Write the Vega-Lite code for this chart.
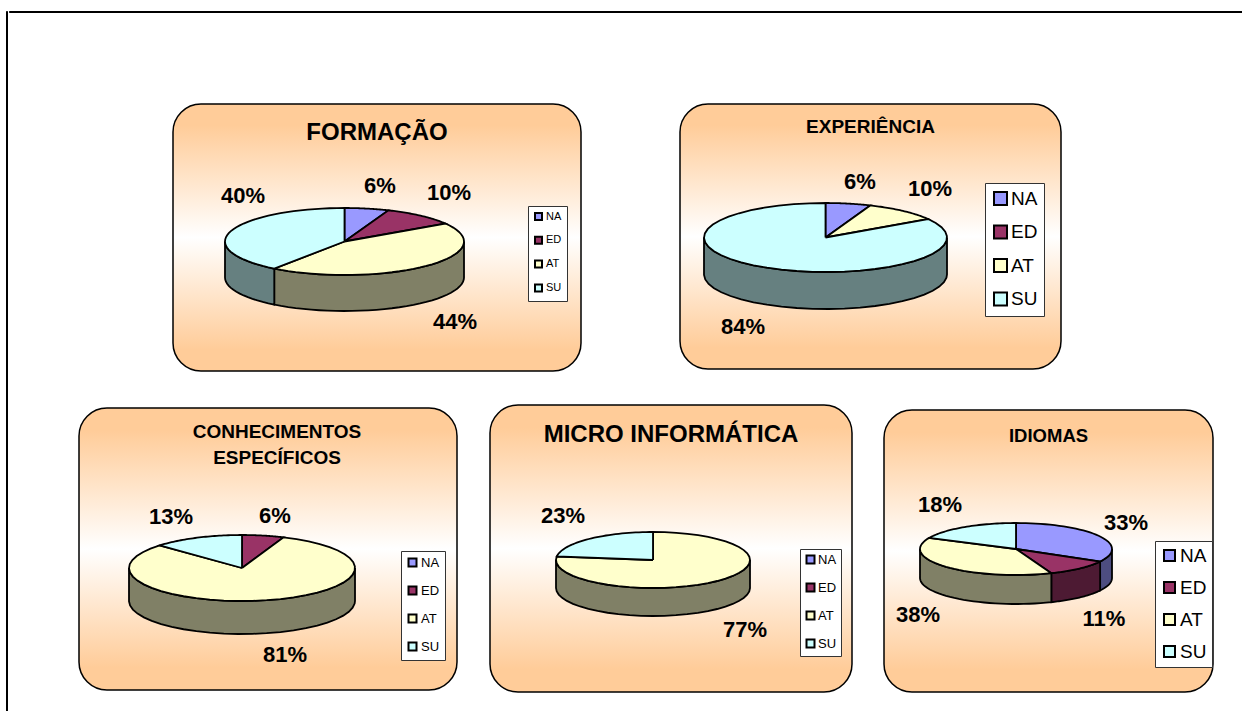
{"$schema":"https://vega.github.io/schema/vega-lite/v6.json","padding":{"left":5,"top":10,"right":0,"bottom":0},"background":"#ffffff","spacing":0,"resolve":{"scale":{"color":"independent","fill":"independent"},"legend":{"color":"independent"}},"config":{"font":"Liberation Sans","legend":{"symbolType":"square","labelColor":"#000000","labelFont":"Liberation Sans","symbolStrokeColor":"#000000","symbolStrokeWidth":2,"symbolOpacity":1,"fillColor":"#ffffff","strokeColor":"#333333"},"title":{"anchor":"middle","offset":0,"baseline":"middle","fontWeight":"bold","color":"#000000","font":"Liberation Sans"},"text":{"fontWeight":"bold","fontSize":22,"font":"Liberation Sans","color":"#000000"}},"data":{"values":[{"Painel":"FORMAÇÃO","Categoria":"NA","Percentual":6},{"Painel":"FORMAÇÃO","Categoria":"ED","Percentual":10},{"Painel":"FORMAÇÃO","Categoria":"AT","Percentual":44},{"Painel":"FORMAÇÃO","Categoria":"SU","Percentual":40},{"Painel":"EXPERIÊNCIA","Categoria":"NA","Percentual":6},{"Painel":"EXPERIÊNCIA","Categoria":"ED","Percentual":0},{"Painel":"EXPERIÊNCIA","Categoria":"AT","Percentual":10},{"Painel":"EXPERIÊNCIA","Categoria":"SU","Percentual":84},{"Painel":"CONHECIMENTOS ESPECÍFICOS","Categoria":"NA","Percentual":0},{"Painel":"CONHECIMENTOS ESPECÍFICOS","Categoria":"ED","Percentual":6},{"Painel":"CONHECIMENTOS ESPECÍFICOS","Categoria":"AT","Percentual":81},{"Painel":"CONHECIMENTOS ESPECÍFICOS","Categoria":"SU","Percentual":13},{"Painel":"MICRO INFORMÁTICA","Categoria":"NA","Percentual":0},{"Painel":"MICRO INFORMÁTICA","Categoria":"ED","Percentual":0},{"Painel":"MICRO INFORMÁTICA","Categoria":"AT","Percentual":77},{"Painel":"MICRO INFORMÁTICA","Categoria":"SU","Percentual":23},{"Painel":"IDIOMAS","Categoria":"NA","Percentual":33},{"Painel":"IDIOMAS","Categoria":"ED","Percentual":11},{"Painel":"IDIOMAS","Categoria":"AT","Percentual":38},{"Painel":"IDIOMAS","Categoria":"SU","Percentual":18}]},"hconcat":[{"data":{"values":[]},"width":1,"height":700,"view":{"stroke":"#000000","strokeWidth":1,"fill":"#000000"},"mark":"text","encoding":{}},{"spacing":0,"resolve":{"scale":{"color":"independent","fill":"independent"},"legend":{"color":"independent"}},"vconcat":[{"data":{"values":[]},"width":1300,"height":1,"view":{"stroke":"#000000","strokeWidth":1,"fill":"#000000"},"mark":"text","encoding":{}},{"data":{"values":[]},"width":10,"height":90,"view":{"stroke":null,"fill":"transparent"},"mark":"text","encoding":{}},{"spacing":0,"resolve":{"scale":{"color":"independent","fill":"independent"},"legend":{"color":"independent"}},"hconcat":[{"data":{"values":[]},"width":163,"height":10,"view":{"stroke":null,"fill":"transparent"},"mark":"text","encoding":{}},{"width":408,"height":267,"view":{"stroke":"#000000","strokeWidth":1.5,"cornerRadius":28,"fill":{"gradient":"linear","x1":0,"y1":0,"x2":0,"y2":1,"stops":[{"offset":0.08,"color":"#FFCC99"},{"offset":0.5,"color":"#FFFFFF"},{"offset":0.92,"color":"#FFCC99"}]}},"title":{"text":"FORMAÇÃO","fontSize":24,"dy":45},"transform":[{"filter":"datum.Painel==='FORMAÇÃO' && datum.Percentual>0"},{"window":[{"op":"sum","field":"Percentual","as":"acum"}],"ignorePeers":true},{"calculate":"(datum.acum-datum.Percentual)*PI/50","as":"a0"},{"calculate":"datum.acum*PI/50","as":"a1"}],"encoding":{"x":{"field":"x","type":"quantitative","axis":null,"scale":{"domain":[-171.5,236.5],"nice":false,"zero":false}},"y":{"field":"y","type":"quantitative","axis":null,"scale":{"domain":[-129.5,137.5],"nice":false,"zero":false}}},"layer":[{"transform":[{"filter":"datum.a1>PI/2 && datum.a0<3*PI/2"},{"calculate":"sequence(0,41)","as":"k"},{"flatten":["k"]},{"calculate":"clamp(datum.a0+(datum.a1-datum.a0)*datum.k/40,PI/2,3*PI/2)","as":"a"},{"calculate":"119.5*sin(datum.a)","as":"x"},{"calculate":"33.5*cos(datum.a)","as":"y"},{"calculate":"datum.y-36","as":"yb"}],"mark":{"type":"area","stroke":"#000000","strokeWidth":1.8},"encoding":{"y2":{"field":"yb"},"fill":{"field":"Categoria","legend":null,"scale":{"domain":["SU","AT","ED","NA"],"range":["#668080","#808066","#4D1A33","#4D4D80"]}}}},{"transform":[{"calculate":"sequence(0,43)","as":"k"},{"flatten":["k"]},{"calculate":"datum.a0+(datum.a1-datum.a0)*(datum.k-1)/40","as":"a"},{"calculate":"datum.k==0||datum.k==42?0:119.5*sin(datum.a)","as":"x"},{"calculate":"datum.k==0||datum.k==42?0:33.5*cos(datum.a)","as":"y"}],"mark":{"type":"line","filled":true,"stroke":"#000000","strokeWidth":1.8},"encoding":{"order":{"field":"k","type":"quantitative"},"color":{"field":"Categoria","scale":{"domain":["NA","ED","AT","SU"],"range":["#9999FF","#993366","#FFFFCC","#CCFFFF"]},"legend":{"title":null,"orient":"none","legendX":355,"legendY":102,"symbolSize":49,"labelFontSize":11,"rowPadding":8.8,"padding":5,"labelOffset":2,"encoding":{"symbols":{"update":{"stroke":{"value":"#000000"},"strokeWidth":{"value":2}}}}}}}},{"transform":[{"calculate":"({NA:35.5,ED:104.5,AT:110.5,SU:-101.5})[datum.Categoria]","as":"x"},{"calculate":"({NA:55.5,ED:48.5,AT:-80.5,SU:45.5})[datum.Categoria]","as":"y"},{"calculate":"datum.Percentual+'%'","as":"rotulo"}],"mark":{"type":"text"},"encoding":{"text":{"field":"rotulo"}}}]},{"data":{"values":[]},"width":97,"height":10,"view":{"stroke":null,"fill":"transparent"},"mark":"text","encoding":{}},{"width":381,"height":265,"view":{"stroke":"#000000","strokeWidth":1.5,"cornerRadius":28,"fill":{"gradient":"linear","x1":0,"y1":0,"x2":0,"y2":1,"stops":[{"offset":0.08,"color":"#FFCC99"},{"offset":0.5,"color":"#FFFFFF"},{"offset":0.92,"color":"#FFCC99"}]}},"title":{"text":"EXPERIÊNCIA","fontSize":19,"dy":37},"transform":[{"filter":"datum.Painel==='EXPERIÊNCIA' && datum.Percentual>0"},{"window":[{"op":"sum","field":"Percentual","as":"acum"}],"ignorePeers":true},{"calculate":"(datum.acum-datum.Percentual)*PI/50","as":"a0"},{"calculate":"datum.acum*PI/50","as":"a1"}],"encoding":{"x":{"field":"x","type":"quantitative","axis":null,"scale":{"domain":[-145.5,235.5],"nice":false,"zero":false}},"y":{"field":"y","type":"quantitative","axis":null,"scale":{"domain":[-131.5,133.5],"nice":false,"zero":false}}},"layer":[{"transform":[{"filter":"datum.a1>PI/2 && datum.a0<3*PI/2"},{"calculate":"sequence(0,41)","as":"k"},{"flatten":["k"]},{"calculate":"clamp(datum.a0+(datum.a1-datum.a0)*datum.k/40,PI/2,3*PI/2)","as":"a"},{"calculate":"121.5*sin(datum.a)","as":"x"},{"calculate":"34.5*cos(datum.a)","as":"y"},{"calculate":"datum.y-37","as":"yb"}],"mark":{"type":"area","stroke":"#000000","strokeWidth":1.8},"encoding":{"y2":{"field":"yb"},"fill":{"field":"Categoria","legend":null,"scale":{"domain":["SU","AT","ED","NA"],"range":["#668080","#808066","#4D1A33","#4D4D80"]}}}},{"transform":[{"calculate":"sequence(0,43)","as":"k"},{"flatten":["k"]},{"calculate":"datum.a0+(datum.a1-datum.a0)*(datum.k-1)/40","as":"a"},{"calculate":"datum.k==0||datum.k==42?0:121.5*sin(datum.a)","as":"x"},{"calculate":"datum.k==0||datum.k==42?0:34.5*cos(datum.a)","as":"y"}],"mark":{"type":"line","filled":true,"stroke":"#000000","strokeWidth":1.8},"encoding":{"order":{"field":"k","type":"quantitative"},"color":{"field":"Categoria","scale":{"domain":["NA","ED","AT","SU"],"range":["#9999FF","#993366","#FFFFCC","#CCFFFF"]},"legend":{"title":null,"orient":"none","legendX":305,"legendY":79,"symbolSize":169,"labelFontSize":19,"rowPadding":12.5,"padding":6,"labelOffset":1,"encoding":{"symbols":{"update":{"stroke":{"value":"#000000"},"strokeWidth":{"value":2}}}}}}}},{"transform":[{"calculate":"({NA:34.5,AT:104.5,SU:-82.5})[datum.Categoria]","as":"x"},{"calculate":"({NA:55.5,AT:48.5,SU:-89.5})[datum.Categoria]","as":"y"},{"calculate":"datum.Percentual+'%'","as":"rotulo"}],"mark":{"type":"text"},"encoding":{"text":{"field":"rotulo"}}}]}]},{"data":{"values":[]},"width":10,"height":32,"view":{"stroke":null,"fill":"transparent"},"mark":"text","encoding":{}},{"spacing":0,"resolve":{"scale":{"color":"independent","fill":"independent"},"legend":{"color":"independent"}},"hconcat":[{"data":{"values":[]},"width":69,"height":10,"view":{"stroke":null,"fill":"transparent"},"mark":"text","encoding":{}},{"spacing":0,"resolve":{"scale":{"color":"independent","fill":"independent"},"legend":{"color":"independent"}},"vconcat":[{"data":{"values":[]},"width":378,"height":2,"view":{"stroke":null,"fill":"transparent"},"mark":"text","encoding":{}},{"width":378,"height":282,"view":{"stroke":"#000000","strokeWidth":1.5,"cornerRadius":28,"fill":{"gradient":"linear","x1":0,"y1":0,"x2":0,"y2":1,"stops":[{"offset":0.08,"color":"#FFCC99"},{"offset":0.5,"color":"#FFFFFF"},{"offset":0.92,"color":"#FFCC99"}]}},"title":{"text":["CONHECIMENTOS","ESPECÍFICOS"],"fontSize":19,"lineHeight":26,"dy":64,"dx":9},"transform":[{"filter":"datum.Painel==='CONHECIMENTOS ESPECÍFICOS' && datum.Percentual>0"},{"window":[{"op":"sum","field":"Percentual","as":"acum"}],"ignorePeers":true},{"calculate":"(datum.acum-datum.Percentual)*PI/50","as":"a0"},{"calculate":"datum.acum*PI/50","as":"a1"}],"encoding":{"x":{"field":"x","type":"quantitative","axis":null,"scale":{"domain":[-163,215],"nice":false,"zero":false}},"y":{"field":"y","type":"quantitative","axis":null,"scale":{"domain":[-122,160],"nice":false,"zero":false}}},"layer":[{"transform":[{"filter":"datum.a1>PI/2 && datum.a0<3*PI/2"},{"calculate":"sequence(0,41)","as":"k"},{"flatten":["k"]},{"calculate":"clamp(datum.a0+(datum.a1-datum.a0)*datum.k/40,PI/2,3*PI/2)","as":"a"},{"calculate":"113*sin(datum.a)","as":"x"},{"calculate":"33*cos(datum.a)","as":"y"},{"calculate":"datum.y-33","as":"yb"}],"mark":{"type":"area","stroke":"#000000","strokeWidth":1.8},"encoding":{"y2":{"field":"yb"},"fill":{"field":"Categoria","legend":null,"scale":{"domain":["SU","AT","ED","NA"],"range":["#668080","#808066","#4D1A33","#4D4D80"]}}}},{"transform":[{"calculate":"sequence(0,43)","as":"k"},{"flatten":["k"]},{"calculate":"datum.a0+(datum.a1-datum.a0)*(datum.k-1)/40","as":"a"},{"calculate":"datum.k==0||datum.k==42?0:113*sin(datum.a)","as":"x"},{"calculate":"datum.k==0||datum.k==42?0:33*cos(datum.a)","as":"y"}],"mark":{"type":"line","filled":true,"stroke":"#000000","strokeWidth":1.8},"encoding":{"order":{"field":"k","type":"quantitative"},"color":{"field":"Categoria","scale":{"domain":["NA","ED","AT","SU"],"range":["#9999FF","#993366","#FFFFCC","#CCFFFF"]},"legend":{"title":null,"orient":"none","legendX":322,"legendY":143,"symbolSize":64,"labelFontSize":13,"rowPadding":11,"padding":5,"labelOffset":2,"encoding":{"symbols":{"update":{"stroke":{"value":"#000000"},"strokeWidth":{"value":2}}}}}}}},{"transform":[{"calculate":"({ED:33,AT:43,SU:-71})[datum.Categoria]","as":"x"},{"calculate":"({ED:52,AT:-87,SU:51})[datum.Categoria]","as":"y"},{"calculate":"datum.Percentual+'%'","as":"rotulo"}],"mark":{"type":"text"},"encoding":{"text":{"field":"rotulo"}}}]}]},{"data":{"values":[]},"width":31,"height":10,"view":{"stroke":null,"fill":"transparent"},"mark":"text","encoding":{}},{"width":362,"height":287,"view":{"stroke":"#000000","strokeWidth":1.5,"cornerRadius":28,"fill":{"gradient":"linear","x1":0,"y1":0,"x2":0,"y2":1,"stops":[{"offset":0.08,"color":"#FFCC99"},{"offset":0.5,"color":"#FFFFFF"},{"offset":0.92,"color":"#FFCC99"}]}},"title":{"text":"MICRO INFORMÁTICA","fontSize":24,"dy":46},"transform":[{"filter":"datum.Painel==='MICRO INFORMÁTICA' && datum.Percentual>0"},{"window":[{"op":"sum","field":"Percentual","as":"acum"}],"ignorePeers":true},{"calculate":"(datum.acum-datum.Percentual)*PI/50","as":"a0"},{"calculate":"datum.acum*PI/50","as":"a1"}],"encoding":{"x":{"field":"x","type":"quantitative","axis":null,"scale":{"domain":[-163,199],"nice":false,"zero":false}},"y":{"field":"y","type":"quantitative","axis":null,"scale":{"domain":[-132,155],"nice":false,"zero":false}}},"layer":[{"transform":[{"filter":"datum.a1>PI/2 && datum.a0<3*PI/2"},{"calculate":"sequence(0,41)","as":"k"},{"flatten":["k"]},{"calculate":"clamp(datum.a0+(datum.a1-datum.a0)*datum.k/40,PI/2,3*PI/2)","as":"a"},{"calculate":"97*sin(datum.a)","as":"x"},{"calculate":"28*cos(datum.a)","as":"y"},{"calculate":"datum.y-28","as":"yb"}],"mark":{"type":"area","stroke":"#000000","strokeWidth":1.8},"encoding":{"y2":{"field":"yb"},"fill":{"field":"Categoria","legend":null,"scale":{"domain":["SU","AT","ED","NA"],"range":["#668080","#808066","#4D1A33","#4D4D80"]}}}},{"transform":[{"calculate":"sequence(0,43)","as":"k"},{"flatten":["k"]},{"calculate":"datum.a0+(datum.a1-datum.a0)*(datum.k-1)/40","as":"a"},{"calculate":"datum.k==0||datum.k==42?0:97*sin(datum.a)","as":"x"},{"calculate":"datum.k==0||datum.k==42?0:28*cos(datum.a)","as":"y"}],"mark":{"type":"line","filled":true,"stroke":"#000000","strokeWidth":1.8},"encoding":{"order":{"field":"k","type":"quantitative"},"color":{"field":"Categoria","scale":{"domain":["NA","ED","AT","SU"],"range":["#9999FF","#993366","#FFFFCC","#CCFFFF"]},"legend":{"title":null,"orient":"none","legendX":310,"legendY":144,"symbolSize":64,"labelFontSize":13,"rowPadding":11,"padding":4,"labelOffset":1,"encoding":{"symbols":{"update":{"stroke":{"value":"#000000"},"strokeWidth":{"value":2}}}}}}}},{"transform":[{"calculate":"({AT:92,SU:-90})[datum.Categoria]","as":"x"},{"calculate":"({AT:-70,SU:44})[datum.Categoria]","as":"y"},{"calculate":"datum.Percentual+'%'","as":"rotulo"}],"mark":{"type":"text"},"encoding":{"text":{"field":"rotulo"}}}]},{"data":{"values":[]},"width":30,"height":10,"view":{"stroke":null,"fill":"transparent"},"mark":"text","encoding":{}},{"spacing":0,"resolve":{"scale":{"color":"independent","fill":"independent"},"legend":{"color":"independent"}},"vconcat":[{"data":{"values":[]},"width":329,"height":4,"view":{"stroke":null,"fill":"transparent"},"mark":"text","encoding":{}},{"width":329,"height":282,"view":{"stroke":"#000000","strokeWidth":1.5,"cornerRadius":28,"fill":{"gradient":"linear","x1":0,"y1":0,"x2":0,"y2":1,"stops":[{"offset":0.08,"color":"#FFCC99"},{"offset":0.5,"color":"#FFFFFF"},{"offset":0.92,"color":"#FFCC99"}]}},"title":{"text":"IDIOMAS","fontSize":18.5,"dy":39},"transform":[{"filter":"datum.Painel==='IDIOMAS' && datum.Percentual>0"},{"window":[{"op":"sum","field":"Percentual","as":"acum"}],"ignorePeers":true},{"calculate":"(datum.acum-datum.Percentual)*PI/50","as":"a0"},{"calculate":"datum.acum*PI/50","as":"a1"}],"encoding":{"x":{"field":"x","type":"quantitative","axis":null,"scale":{"domain":[-132,197],"nice":false,"zero":false}},"y":{"field":"y","type":"quantitative","axis":null,"scale":{"domain":[-143,139],"nice":false,"zero":false}}},"layer":[{"transform":[{"filter":"datum.a1>PI/2 && datum.a0<3*PI/2"},{"calculate":"sequence(0,41)","as":"k"},{"flatten":["k"]},{"calculate":"clamp(datum.a0+(datum.a1-datum.a0)*datum.k/40,PI/2,3*PI/2)","as":"a"},{"calculate":"96*sin(datum.a)","as":"x"},{"calculate":"26*cos(datum.a)","as":"y"},{"calculate":"datum.y-29","as":"yb"}],"mark":{"type":"area","stroke":"#000000","strokeWidth":1.8},"encoding":{"y2":{"field":"yb"},"fill":{"field":"Categoria","legend":null,"scale":{"domain":["SU","AT","ED","NA"],"range":["#668080","#808066","#4D1A33","#4D4D80"]}}}},{"transform":[{"calculate":"sequence(0,43)","as":"k"},{"flatten":["k"]},{"calculate":"datum.a0+(datum.a1-datum.a0)*(datum.k-1)/40","as":"a"},{"calculate":"datum.k==0||datum.k==42?0:96*sin(datum.a)","as":"x"},{"calculate":"datum.k==0||datum.k==42?0:26*cos(datum.a)","as":"y"}],"mark":{"type":"line","filled":true,"stroke":"#000000","strokeWidth":1.8},"encoding":{"order":{"field":"k","type":"quantitative"},"color":{"field":"Categoria","scale":{"domain":["NA","ED","AT","SU"],"range":["#9999FF","#993366","#FFFFCC","#CCFFFF"]},"legend":{"title":null,"orient":"none","legendX":271,"legendY":131,"symbolSize":121,"labelFontSize":19,"rowPadding":12,"padding":5,"labelOffset":1,"encoding":{"symbols":{"update":{"stroke":{"value":"#000000"},"strokeWidth":{"value":2}}}}}}}},{"transform":[{"calculate":"({NA:110,ED:88,AT:-98,SU:-76})[datum.Categoria]","as":"x"},{"calculate":"({NA:26,ED:-70,AT:-66,SU:44})[datum.Categoria]","as":"y"},{"calculate":"datum.Percentual+'%'","as":"rotulo"}],"mark":{"type":"text"},"encoding":{"text":{"field":"rotulo"}}}]}]}]}]}]}
